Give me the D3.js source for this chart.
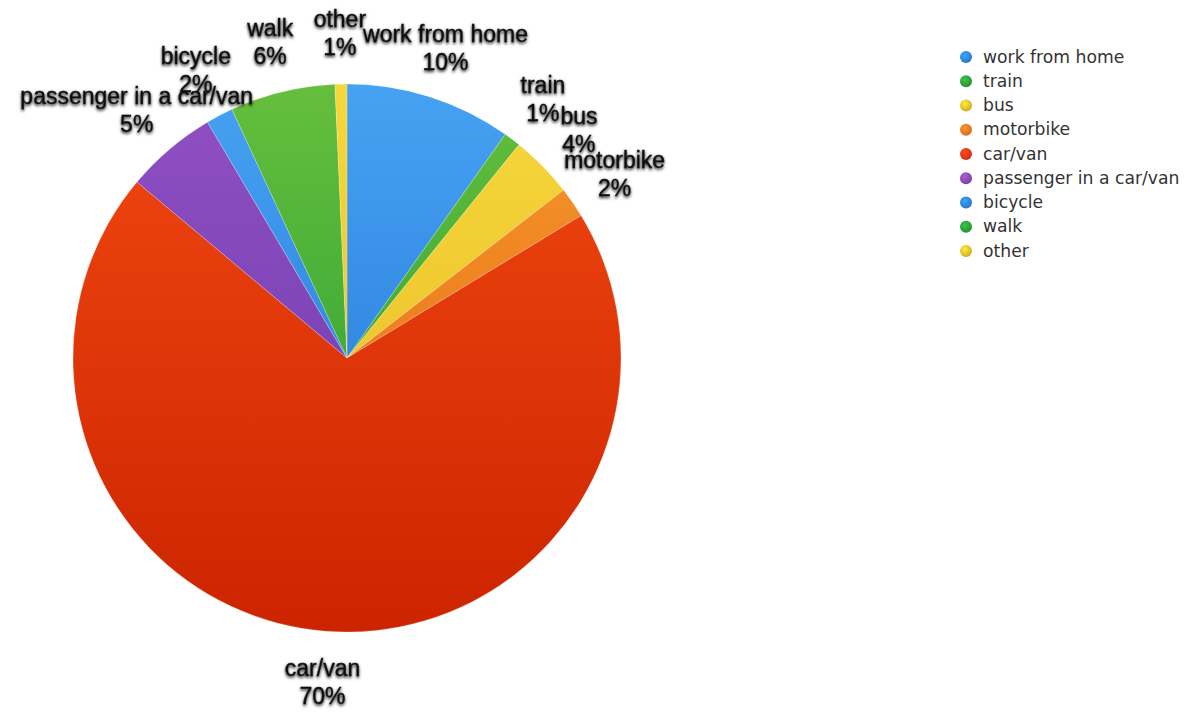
<!DOCTYPE html>
<html>
<head>
<meta charset="utf-8">
<script src="https://cdn.jsdelivr.net/npm/d3@7"></script>
<style>
  html, body { margin: 0; padding: 0; background: #fff; }
  svg { display: block; }
</style>
</head>
<body>
<svg id="chart" width="1198" height="718"></svg>
<script>
const categories = ["work from home", "train", "bus", "motorbike", "car/van",
                    "passenger in a car/van", "bicycle", "walk", "other"];
const values = [9.8, 1.0, 3.7, 1.8, 69.8, 5.4, 1.6, 6.2, 0.7];
const percentLabels = ["10%", "1%", "4%", "2%", "70%", "5%", "2%", "6%", "1%"];

// palette: [top colour, bottom colour, legend dot colour]
const palette = [
  ["#46a2f2", "#1f70d2", "#2f86d8"],
  ["#66be3c", "#1c9a32", "#2ea03a"],
  ["#f6d83c", "#e6b61e", "#e8c02a"],
  ["#f6962c", "#e06810", "#ec7a22"],
  ["#f24812", "#cc2400", "#e03a18"],
  ["#9050c4", "#6a38a8", "#8a4ab0"],
  ["#46a2f2", "#1f70d2", "#2f86d8"],
  ["#66be3c", "#1c9a32", "#2ea03a"],
  ["#f6d83c", "#e6b61e", "#e8c02a"]
];

const svg = d3.select("#chart");
const cx = 347, cy = 358, R = 274, labelR = 325;

const defs = svg.append("defs");
palette.forEach((c, i) => {
  const g = defs.append("linearGradient")
    .attr("id", "grad" + i)
    .attr("gradientUnits", "userSpaceOnUse")
    .attr("x1", 0).attr("x2", 0)
    .attr("y1", -R).attr("y2", R);
  g.append("stop").attr("offset", "0%").attr("stop-color", c[0]);
  g.append("stop").attr("offset", "100%").attr("stop-color", c[1]);
  const rg = defs.append("radialGradient")
    .attr("id", "dot" + i).attr("cx", "40%").attr("cy", "35%").attr("r", "65%");
  rg.append("stop").attr("offset", "0%").attr("stop-color", d3.color(c[2]).brighter(0.6));
  rg.append("stop").attr("offset", "100%").attr("stop-color", d3.color(c[2]).darker(0.3));
});

const f = defs.append("filter").attr("id", "shadow")
  .attr("x", "-20%").attr("y", "-40%").attr("width", "140%").attr("height", "180%");
f.append("feDropShadow").attr("dx", 0).attr("dy", 1.5)
  .attr("stdDeviation", 1.8).attr("flood-color", "#000").attr("flood-opacity", 1);

const data = categories.map((c, i) => ({ name: c, value: values[i], label: percentLabels[i], i }));

const pie = d3.pie().sort(null).value(d => d.value);
const arcs = pie(data);
const arc = d3.arc().innerRadius(0).outerRadius(R);
const labelArc = d3.arc().innerRadius(labelR).outerRadius(labelR);

const g = svg.append("g").attr("transform", `translate(${cx},${cy})`);

g.selectAll("path.slice").data(arcs).enter().append("path")
  .attr("class", "slice")
  .attr("d", arc)
  .attr("fill", d => `url(#grad${d.data.i})`)
  .attr("stroke", "rgba(255,255,255,0.35)")
  .attr("stroke-width", 0.6);

const fs = 23, lh = 28;
const lbl = svg.append("g").attr("transform", `translate(${cx},${cy})`)
  .attr("font-family", "'Liberation Sans', Arial, Helvetica, sans-serif")
  .attr("font-size", fs)
  .attr("fill", "#111")
  .attr("stroke", "#111")
  .attr("stroke-width", 0.3)
  .attr("text-anchor", "middle")
  .attr("filter", "url(#shadow)");

arcs.forEach(d => {
  const [x, y] = labelArc.centroid(d);
  const t = lbl.append("text").attr("x", x).attr("y", y);
  t.append("tspan").attr("x", x).attr("dy", -lh / 2 + fs * 0.35).text(d.data.name);
  t.append("tspan").attr("x", x).attr("dy", lh).text(d.data.label);
});

// legend
const legend = svg.append("g").attr("transform", "translate(966,57)");
const ly = d3.scalePoint().domain(categories).range([0, 194]);
const items = legend.selectAll("g").data(data).enter().append("g")
  .attr("transform", d => `translate(0,${ly(d.name)})`);
items.append("circle").attr("r", 6).attr("fill", d => `url(#dot${d.i})`);
items.append("text").attr("x", 17).attr("y", 5.5)
  .attr("font-family", "'DejaVu Sans', Verdana, sans-serif")
  .attr("font-size", 17.2)
  .attr("fill", "#333")
  .text(d => d.name);
</script>
</body>
</html>
